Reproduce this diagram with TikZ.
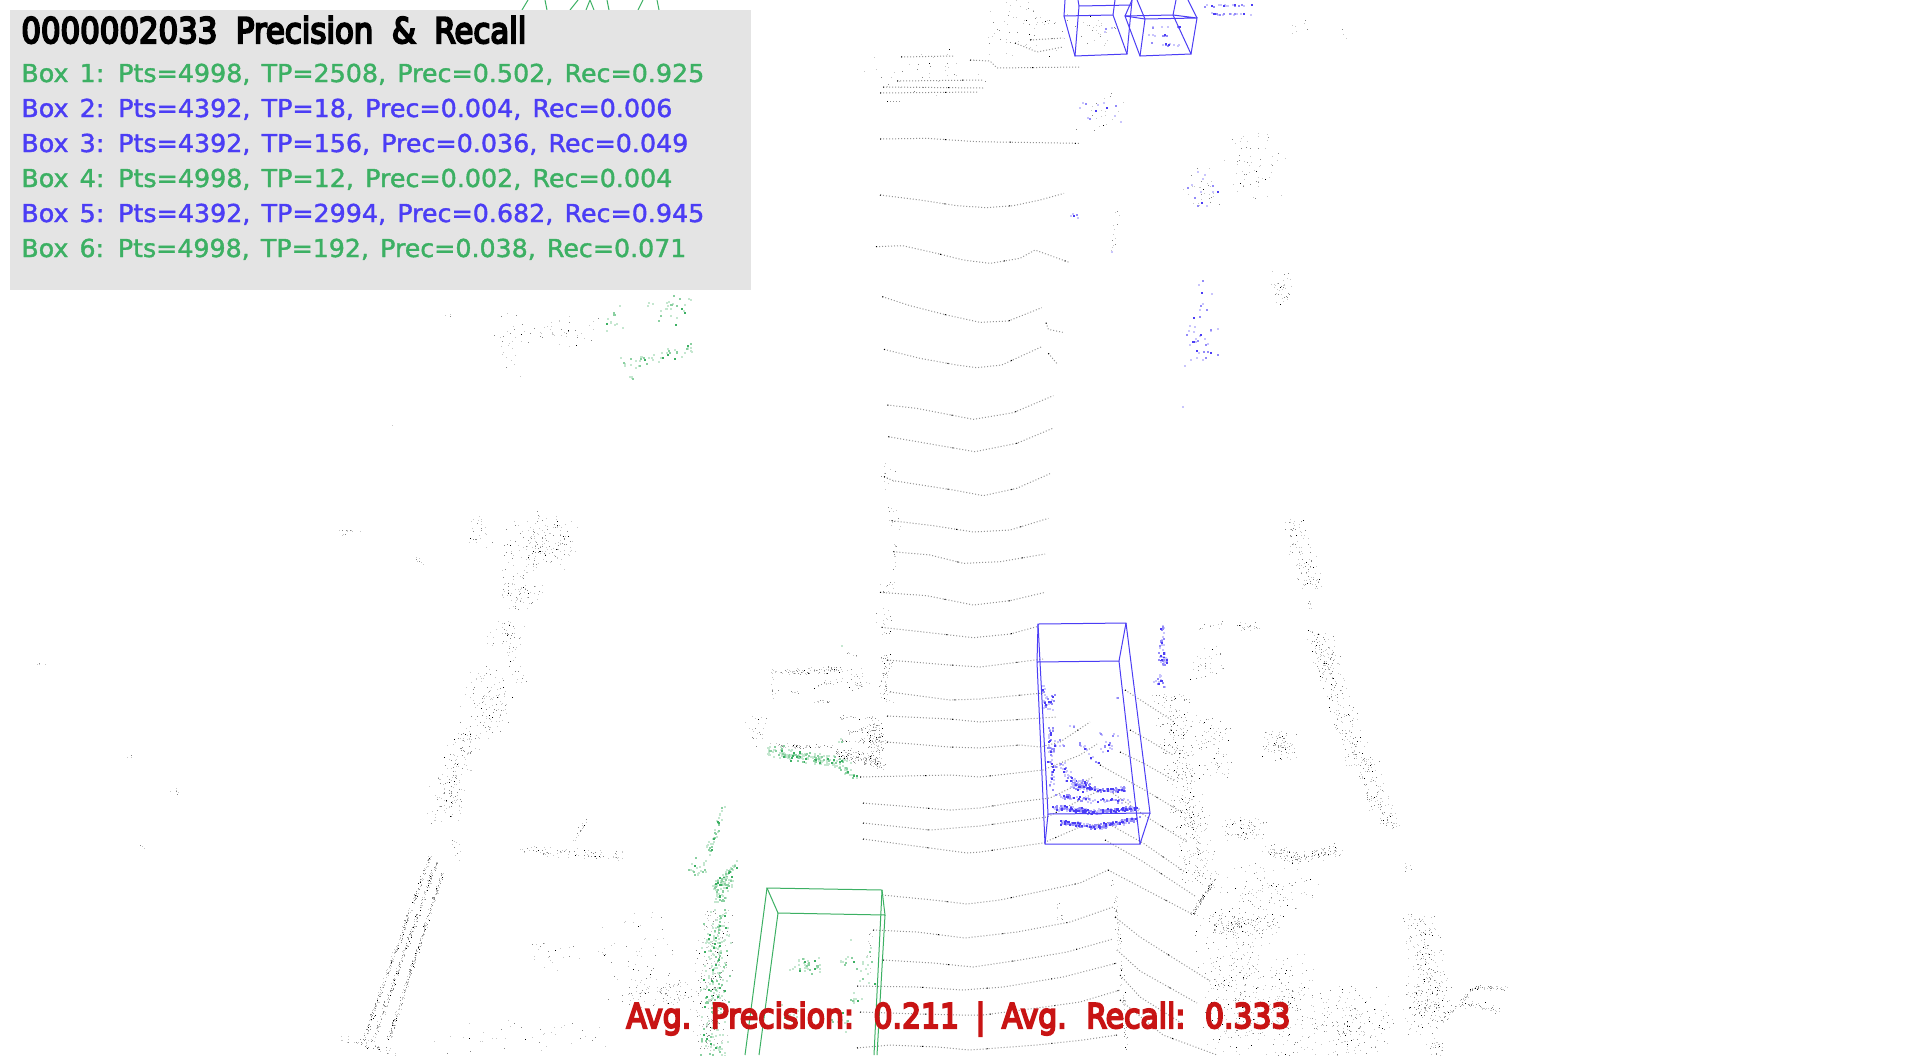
\documentclass[tikz,border=0pt]{standalone}
\usepackage{fontspec}
\usepackage{graphicx}
\setmainfont[FakeBold=1.5]{DejaVu Sans}
\newfontfamily\heavyfont[FakeBold=6]{DejaVu Sans}
\definecolor{boxgreen}{HTML}{3CB063}
\definecolor{boxblue}{HTML}{4B3DF5}
\definecolor{alertred}{HTML}{C81414}
\definecolor{panelgray}{HTML}{E4E4E4}
\newsavebox{\fitbox}
\newcommand{\fitw}[3][.44em]{\sbox{\fitbox}{\spaceskip=#1\relax #3}\pgfmathsetmacro{\fitscale}{#2/(\wd\fitbox/1pt)}\scalebox{\fitscale}[1]{\usebox{\fitbox}}}
\newcommand{\cloudpart}[8]{\ifnum#7>0\relax
  \foreach \cpk in {1,...,#7}{%
    \pgfmathsetmacro{\cpt}{rnd}%
    \pgfmathtruncatemacro{\cpx}{#1+(#3-#1)*\cpt+#5*1.4*(rnd+rnd-1)}%
    \pgfmathtruncatemacro{\cpy}{#2+(#4-#2)*\cpt+#6*1.4*(rnd+rnd-1)}%
    \fill[#8] (\cpx,\cpy) rectangle +(\ptw,\ptw);}%
  \fi}
\def\graycol{black}
\def\bluecol{boxblue}
\newcommand{\cloud}[8]{%
  \def\argcol{#8}%
  \ifx\argcol\graycol
    \def\ptw{1}%
    \pgfmathtruncatemacro{\cnaa}{#7*1.55*0.62}\pgfmathtruncatemacro{\cnbb}{#7*1.55*0.32}\pgfmathtruncatemacro{\cncc}{#7*1.55*0.06}%
    \edef\cna{\cnaa}\edef\cnb{\cnbb}\edef\cnc{\cncc}%
    \cloudpart{#1}{#2}{#3}{#4}{#5}{#6}{\cna}{black!22}%
    \cloudpart{#1}{#2}{#3}{#4}{#5}{#6}{\cnb}{black!48}%
    \cloudpart{#1}{#2}{#3}{#4}{#5}{#6}{\cnc}{black}%
  \else
    \def\ptw{2}%
    \ifx\argcol\bluecol
      \pgfmathtruncatemacro{\cnaa}{#7*2.0*0.5}\pgfmathtruncatemacro{\cnbb}{#7*2.0*0.3}\pgfmathtruncatemacro{\cncc}{#7*2.0*0.2}%
    \else
      \pgfmathtruncatemacro{\cnaa}{#7*1.0*0.62}\pgfmathtruncatemacro{\cnbb}{#7*1.0*0.26}\pgfmathtruncatemacro{\cncc}{#7*1.0*0.12}%
    \fi
    \edef\cna{\cnaa}\edef\cnb{\cnbb}\edef\cnc{\cncc}%
    \cloudpart{#1}{#2}{#3}{#4}{#5}{#6}{\cna}{#8!30}%
    \cloudpart{#1}{#2}{#3}{#4}{#5}{#6}{\cnb}{#8!60}%
    \cloudpart{#1}{#2}{#3}{#4}{#5}{#6}{\cnc}{#8}%
  \fi}
\tikzset{
  scanline/.style={draw=black!42,line width=.5pt,dash pattern=on .5pt off 1pt,
     postaction={draw=black,dash pattern=on .5pt off 32pt}},
  gtbox/.style={draw=boxgreen,line width=.5pt},
  predbox/.style={draw=boxblue,line width=.5pt},
  boxline/.style={anchor=base west,inner sep=0pt,font=\fontsize{12.35pt}{14pt}\selectfont},
  headline/.style={anchor=base west,inner sep=0pt,font=\fontsize{17.6pt}{20pt}\heavyfont},
  avgline/.style={anchor=base west,inner sep=0pt,text=alertred,font=\fontsize{17pt}{20pt}\heavyfont}
}
\begin{document}
\begin{tikzpicture}[x=.5pt,y=-.5pt]
\useasboundingbox (0,0) rectangle (1920,1055);
\fill[white] (0,0) rectangle (1920,1055);
\pgfmathsetseed{2033}
% ---------- scan lines, zoom coordinates
\begin{scope}[shift={(860,40)},x=.16667pt,y=-.16667pt]
\draw[scanline] (60,297)--(200,295)--(350,305)--(660,310);
\draw[scanline] (60,465)--(180,480)--(290,497)--(380,503)--(460,497)--(540,480)--(612,460);
\draw[scanline] (48,620)--(128,617)--(230,640)--(310,660)--(390,670)--(480,655)--(525,630)--(630,668);
\draw[scanline] (67,770)--(150,797)--(260,825)--(360,847)--(445,843)--(545,803);
\draw[scanline] (558,848)--(565,868)--(608,877);
\end{scope}
\begin{scope}[shift={(860,330)},x=.16667pt,y=-.16667pt]
\draw[scanline] (72,58)--(180,85)--(290,105)--(350,113)--(425,105)--(545,50);
\draw[scanline] (565,70)--(590,100);
\draw[scanline] (82,225)--(170,235)--(340,268)--(460,248)--(580,197);
\draw[scanline] (85,320)--(200,340)--(345,365)--(470,340)--(578,295);
\draw[scanline] (72,440)--(100,452)--(280,480)--(370,497)--(470,475)--(572,430);
\draw[scanline] (95,572)--(220,587)--(340,606)--(450,600)--(565,565);
\draw[scanline] (100,665)--(210,675)--(310,700)--(420,695)--(555,672);
\draw[scanline] (60,787)--(200,797)--(340,825)--(450,812)--(555,787);
\draw[scanline] (65,892)--(200,907)--(340,923)--(450,912)--(530,890);
\end{scope}
% ---------- scan lines, pixel coordinates
\foreach \ln in {
 {(887,660)--(950,665)--(980,667)--(1043,659)},
 {(890,692)--(950,700)--(980,699)--(1043,693)},
 {(887,716)--(950,719)--(980,722)--(1057,717)},
 {(887,742)--(950,747)--(980,748)--(1020,745)--(1040,747)--(1060,742)--(1090,722)},
 {(860,777)--(950,775)--(980,777)--(1043,770)--(1080,755)--(1097,744)},
 {(863,803)--(950,810)--(980,808)--(1017,802)--(1050,798)--(1093,777)},
 {(863,823)--(930,830)--(980,826)--(1047,817)--(1100,790)},
 {(863,839)--(967,853)--(980,852)--(1043,843)--(1080,827)--(1107,823)},
 {(882,895)--(933,900)--(967,904)--(1000,900)--(1033,893)--(1080,883)--(1108,870)},
 {(873,930)--(917,932)--(965,938)--(1017,932)--(1070,922)--(1113,907)},
 {(883,960)--(933,963)--(973,967)--(1020,960)--(1067,952)--(1113,939)},
 {(857,986)--(917,987)--(963,990)--(1003,987)--(1063,977)--(1117,963)},
 {(860,1012)--(920,1014)--(960,1015)--(983,1015)--(1037,1008)--(1080,1002)--(1120,990)},
 {(857,1048)--(890,1045)--(937,1047)--(970,1050)--(1037,1045)--(1083,1040)--(1117,1035)},
 {(901,57)--(953,56)},{(897,81)--(983,80)},{(883,87)--(983,88)},{(880,93)--(977,92)},{(887,101)--(900,101)},
 {(1015,43)--(1037,52)--(1063,47)},
 {(970,60)--(990,61)--(997,68)--(1080,67)},
 {(1030,40)--(1063,38)},
 {(1108,870)--(1192,914)},
 {(1115,917)--(1140,937)--(1210,981)},
 {(1117,950)--(1140,971)--(1197,1003)},
 {(1120,975)--(1140,997)--(1183,1024)},
 {(1120,1000)--(1163,1035)--(1217,1055)},
 {(1125,690)--(1173,721)},
 {(1130,730)--(1150,741)--(1173,755)},
 {(1120,752)--(1145,764)--(1175,781)},
 {(1100,765)--(1148,792)--(1183,813)},
 {(1108,790)--(1150,819)--(1187,842)},
 {(1107,823)--(1143,843)--(1185,872)},
 {(1105,840)--(1142,861)--(1195,896)}}{
  \edef\tmpln{\noexpand\draw[scanline] \ln;}\tmpln
}
% ---------- gray clouds: left
\cloud{541}{543}{541}{543}{28}{24}{120}{black}
\cloud{520}{592}{520}{592}{17}{18}{50}{black}
\cloud{506}{636}{506}{636}{14}{14}{30}{black}
\cloud{510}{648}{522}{685}{5}{3}{14}{black}
\cloud{487}{702}{487}{702}{20}{32}{80}{black}
\cloud{470}{730}{448}{790}{14}{6}{75}{black}
\cloud{446}{806}{446}{806}{14}{16}{40}{black}
\cloud{455}{840}{460}{860}{4}{3}{8}{black}
\cloud{430}{856}{363}{1042}{2}{0}{170}{black}
\cloud{437}{861}{373}{1042}{2}{0}{170}{black}
\cloud{443}{872}{388}{1042}{2}{0}{170}{black}
\cloud{343}{1038}{393}{1052}{3}{4}{30}{black}
\cloud{520}{850}{623}{857}{2}{4}{55}{black}
\cloud{573}{843}{587}{820}{2}{2}{14}{black}
\cloud{480}{535}{480}{535}{10}{15}{18}{black}
\cloud{340}{530}{362}{532}{2}{1}{7}{black}
\cloud{410}{553}{425}{565}{2}{2}{6}{black}
\cloud{172}{790}{180}{792}{4}{3}{6}{black}
\cloud{35}{664}{45}{665}{8}{1}{4}{black}
\cloud{125}{757}{130}{757}{4}{2}{3}{black}
\cloud{140}{847}{145}{847}{4}{2}{3}{black}
\cloud{392}{426}{392}{426}{1}{1}{2}{black}
\cloud{350}{535}{350}{535}{10}{2}{3}{black}
\cloud{715}{910}{708}{1050}{15}{2}{150}{black}
\cloud{663}{992}{663}{992}{32}{14}{60}{black}
\cloud{638}{958}{638}{958}{32}{36}{40}{black}
\cloud{557}{957}{557}{957}{22}{12}{15}{black}
\cloud{530}{1038}{530}{1038}{70}{16}{28}{black}
% top-left patch
\cloud{510}{345}{510}{345}{12}{25}{18}{black}
\cloud{562}{332}{562}{332}{35}{12}{30}{black}
\cloud{450}{315}{450}{315}{5}{2}{3}{black}
% ---------- gray clouds: center-left building
\cloud{773}{673}{843}{670}{2}{3}{60}{black}
\cloud{810}{687}{843}{680}{2}{2}{12}{black}
\cloud{790}{692}{802}{692}{2}{1}{6}{black}
\cloud{813}{702}{830}{702}{2}{2}{9}{black}
\cloud{847}{653}{858}{657}{1}{1}{6}{black}
\cloud{858}{681}{858}{681}{9}{9}{20}{black}
\cloud{886}{653}{886}{703}{6}{0}{40}{black}
\cloud{773}{673}{773}{703}{4}{0}{8}{black}
\cloud{757}{729}{757}{729}{10}{14}{15}{black}
\cloud{770}{745}{830}{747}{3}{2}{35}{black}
\cloud{837}{753}{883}{763}{4}{6}{100}{black}
\cloud{873}{723}{880}{753}{8}{3}{70}{black}
\cloud{840}{718}{877}{718}{2}{2}{15}{black}
\cloud{843}{732}{873}{730}{2}{2}{15}{black}
\cloud{840}{740}{873}{742}{2}{2}{15}{black}
% left column of the scan lines
\cloud{886}{463}{888}{490}{7}{0}{9}{black}
\cloud{893}{507}{896}{530}{6}{0}{9}{black}
\cloud{895}{540}{895}{573}{2}{0}{8}{black}
\cloud{888}{580}{888}{593}{7}{0}{9}{black}
\cloud{886}{607}{888}{637}{8}{0}{12}{black}
\cloud{1112}{880}{1117}{910}{2}{0}{10}{black}
\cloud{1117}{910}{1127}{1055}{2}{0}{45}{black}
\cloud{870}{930}{870}{975}{2}{0}{8}{black}
\cloud{1060}{915}{1060}{918}{4}{2}{5}{black}
\cloud{1058}{905}{1058}{908}{2}{3}{4}{black}
% ---------- top
\cloud{1025}{25}{1025}{25}{38}{25}{45}{black}
\cloud{930}{75}{930}{75}{50}{20}{28}{black}
\cloud{1098}{30}{1098}{30}{16}{14}{18}{black}
\cloud{1100}{112}{1100}{112}{20}{18}{14}{black}
\cloud{1118}{210}{1112}{252}{2}{0}{10}{black}
\cloud{1202}{190}{1202}{190}{16}{18}{20}{black}
\cloud{1255}{165}{1255}{165}{25}{28}{42}{black}
\cloud{1283}{288}{1283}{288}{10}{14}{25}{black}
\cloud{1290}{25}{1300}{30}{12}{6}{6}{black}
\cloud{1340}{30}{1345}{35}{10}{6}{3}{black}
% ---------- gray clouds: right
\cloud{1292}{521}{1313}{588}{10}{2}{70}{black}
\cloud{1310}{600}{1310}{613}{2}{0}{5}{black}
\cloud{1317}{631}{1360}{769}{12}{2}{170}{black}
\cloud{1367}{758}{1390}{826}{8}{2}{60}{black}
\cloud{1360}{772}{1373}{811}{2}{2}{20}{black}
\cloud{1397}{824}{1397}{824}{6}{3}{6}{black}
\cloud{1170}{695}{1200}{882}{15}{2}{270}{black}
\cloud{1207}{663}{1207}{663}{13}{18}{22}{black}
\cloud{1200}{627}{1225}{625}{3}{3}{10}{black}
\cloud{1250}{627}{1250}{627}{12}{4}{15}{black}
\cloud{1210}{734}{1210}{734}{15}{15}{35}{black}
\cloud{1217}{765}{1217}{765}{13}{10}{20}{black}
\cloud{1280}{744}{1280}{744}{14}{14}{55}{black}
\cloud{1243}{829}{1243}{829}{22}{10}{50}{black}
\cloud{1267}{849}{1300}{858}{6}{6}{50}{black}
\cloud{1300}{858}{1337}{850}{6}{5}{50}{black}
\cloud{1215}{879}{1193}{914}{2}{2}{60}{black}
\cloud{1237}{924}{1237}{924}{34}{10}{110}{black}
\cloud{1270}{890}{1270}{890}{45}{22}{70}{black}
\cloud{1240}{995}{1240}{995}{33}{60}{200}{black}
\cloud{1290}{1008}{1290}{1008}{23}{47}{100}{black}
\cloud{1348}{1025}{1348}{1025}{35}{30}{130}{black}
\cloud{1417}{914}{1440}{1017}{15}{3}{130}{black}
\cloud{1423}{1003}{1423}{1003}{17}{28}{90}{black}
\cloud{1432}{1042}{1440}{1054}{8}{2}{15}{black}
\cloud{1507}{988}{1473}{988}{2}{2}{30}{black}
\cloud{1473}{988}{1460}{1003}{2}{2}{15}{black}
\cloud{1460}{1003}{1440}{1024}{2}{2}{15}{black}
\cloud{1460}{1003}{1500}{1010}{3}{4}{30}{black}
\cloud{1407}{868}{1407}{868}{4}{4}{6}{black}
% ---------- green points
\cloud{723}{808}{707}{854}{3}{3}{40}{boxgreen}
\cloud{697}{868}{697}{868}{8}{8}{25}{boxgreen}
\cloud{735}{863}{713}{889}{3}{3}{60}{boxgreen}
\cloud{725}{884}{725}{884}{8}{6}{40}{boxgreen}
\cloud{720}{898}{720}{898}{6}{5}{20}{boxgreen}
\cloud{717}{910}{713}{1055}{11}{2}{220}{boxgreen}
\cloud{767}{750}{833}{762}{3}{5}{120}{boxgreen}
\cloud{780}{755}{850}{762}{3}{4}{70}{boxgreen}
\cloud{833}{762}{857}{777}{3}{3}{35}{boxgreen}
\cloud{841}{740}{841}{740}{3}{2}{4}{boxgreen}
\cloud{842}{646}{842}{646}{1}{1}{3}{boxgreen}
\cloud{806}{965}{806}{965}{12}{7}{40}{boxgreen}
\cloud{843}{960}{843}{960}{4}{4}{8}{boxgreen}
\cloud{863}{963}{863}{963}{12}{20}{20}{boxgreen}
\cloud{790}{1017}{790}{1017}{12}{12}{15}{boxgreen}
\cloud{839}{1023}{839}{1023}{10}{10}{15}{boxgreen}
\cloud{855}{1000}{855}{1000}{5}{8}{10}{boxgreen}
\cloud{670}{308}{670}{308}{18}{12}{30}{boxgreen}
\cloud{613}{320}{613}{320}{9}{13}{15}{boxgreen}
\cloud{622}{365}{694}{347}{4}{6}{50}{boxgreen}
\cloud{632}{377}{632}{377}{5}{1}{6}{boxgreen}
% ---------- blue points
\cloud{1055}{807}{1093}{812}{3}{2}{70}{boxblue}
\cloud{1093}{812}{1137}{808}{3}{2}{70}{boxblue}
\cloud{1060}{822}{1097}{827}{3}{2}{60}{boxblue}
\cloud{1097}{827}{1137}{818}{3}{2}{60}{boxblue}
\cloud{1078}{785}{1097}{790}{3}{2}{25}{boxblue}
\cloud{1097}{790}{1127}{789}{3}{2}{30}{boxblue}
\cloud{1055}{795}{1090}{800}{4}{2}{20}{boxblue}
\cloud{1090}{800}{1130}{800}{4}{2}{15}{boxblue}
\cloud{1050}{727}{1052}{790}{3}{0}{30}{boxblue}
\cloud{1049}{703}{1049}{703}{6}{6}{14}{boxblue}
\cloud{1043}{688}{1043}{688}{2}{5}{5}{boxblue}
\cloud{1077}{740}{1097}{763}{2}{2}{8}{boxblue}
\cloud{1107}{746}{1107}{746}{5}{4}{7}{boxblue}
\cloud{1057}{743}{1057}{743}{6}{3}{5}{boxblue}
\cloud{1060}{763}{1077}{787}{6}{3}{20}{boxblue}
\cloud{1080}{785}{1080}{785}{8}{5}{25}{boxblue}
\cloud{1115}{735}{1115}{735}{3}{3}{2}{boxblue}
\cloud{1118}{697}{1118}{697}{2}{2}{2}{boxblue}
\cloud{1073}{727}{1073}{727}{3}{2}{2}{boxblue}
\cloud{1100}{733}{1100}{733}{2}{2}{2}{boxblue}
\cloud{1160}{623}{1163}{665}{3}{2}{18}{boxblue}
\cloud{1163}{660}{1163}{660}{5}{4}{12}{boxblue}
\cloud{1160}{680}{1160}{680}{5}{5}{8}{boxblue}
\cloud{1147}{27}{1180}{27}{2}{1}{4}{boxblue}
\cloud{1147}{35}{1180}{36}{2}{1}{5}{boxblue}
\cloud{1147}{44}{1180}{44}{2}{1}{6}{boxblue}
\cloud{1203}{5}{1252}{5}{1}{1}{11}{boxblue}
\cloud{1205}{14}{1252}{14}{1}{1}{9}{boxblue}
\cloud{1108}{30}{1108}{30}{5}{8}{2}{boxblue}
\cloud{1100}{115}{1100}{115}{18}{15}{6}{boxblue}
\cloud{1070}{213}{1080}{217}{2}{2}{3}{boxblue}
\cloud{1083}{103}{1083}{103}{1}{1}{1}{boxblue}
\cloud{1200}{190}{1200}{190}{16}{18}{7}{boxblue}
\cloud{1200}{313}{1200}{313}{14}{27}{12}{boxblue}
\cloud{1200}{350}{1200}{350}{14}{15}{9}{boxblue}
\cloud{1182}{407}{1182}{407}{1}{1}{1}{boxblue}
\cloud{1112}{252}{1112}{252}{1}{1}{1}{boxblue}
% ---------- 3D boxes
\draw[predbox] (1038,624)--(1126,623)--(1150,813)--(1048,814)--cycle;
\draw[predbox] (1037,662)--(1119,661)--(1140,844)--(1045,844)--cycle;
\draw[predbox] (1038,624)--(1037,662) (1126,623)--(1119,661) (1150,813)--(1140,844) (1048,814)--(1045,844);
\draw[predbox] (1064,16)--(1113,15)--(1127,54)--(1075,56)--cycle;
\draw[predbox] (1065,0)--(1064,16) (1078,0)--(1079,6)--(1075,56) (1079,6)--(1132,5) (1132,0)--(1127,54) (1115,0)--(1113,15);
\draw[predbox] (1125,16)--(1173,15)--(1191,54)--(1140,56)--cycle;
\draw[predbox] (1145,19)--(1197,18)--(1191,54) (1145,19)--(1140,56) (1125,16)--(1145,19) (1173,15)--(1197,18);
\draw[predbox] (1125,16)--(1132,0) (1145,19)--(1137,0) (1173,15)--(1176,0) (1197,18)--(1188,0);
\draw[gtbox] (767,888)--(882,890)--(885,915)--(778,913)--cycle;
\draw[gtbox] (767,888)--(745,1055) (778,913)--(759,1055) (882,890)--(874,1055) (885,915)--(877,1055);
\draw[gtbox] (522,10)--(528,0) (547,10)--(545,0) (570,10)--(578,0) (586,10)--(590,0)--(594,10) (609,10)--(607,0) (638,10)--(643,0) (659,10)--(657,0);
% ---------- panel and text
\fill[panelgray] (10,10) rectangle (751,290);
\node[headline] (title) at (21,43) {\fitw[.6em]{252.5}{0000002033 Precision \& Recall}};
\node[boxline,text=boxgreen] (b1) at (21,82) {\fitw{341.5}{Box 1: Pts=4998, TP=2508, Prec=0.502, Rec=0.925}};
\node[boxline,text=boxblue] (b2) at (21,117) {\fitw{325.5}{Box 2: Pts=4392, TP=18, Prec=0.004, Rec=0.006}};
\node[boxline,text=boxblue] (b3) at (21,152) {\fitw{333.5}{Box 3: Pts=4392, TP=156, Prec=0.036, Rec=0.049}};
\node[boxline,text=boxgreen] (b4) at (21,187) {\fitw{325.5}{Box 4: Pts=4998, TP=12, Prec=0.002, Rec=0.004}};
\node[boxline,text=boxblue] (b5) at (21,222) {\fitw{341.5}{Box 5: Pts=4392, TP=2994, Prec=0.682, Rec=0.945}};
\node[boxline,text=boxgreen] (b6) at (21,257) {\fitw{332.5}{Box 6: Pts=4998, TP=192, Prec=0.038, Rec=0.071}};
\node[avgline] (avg) at (626,1028) {\fitw[.55em]{332}{Avg. Precision: 0.211 | Avg. Recall: 0.333}};
\end{tikzpicture}
\end{document}
